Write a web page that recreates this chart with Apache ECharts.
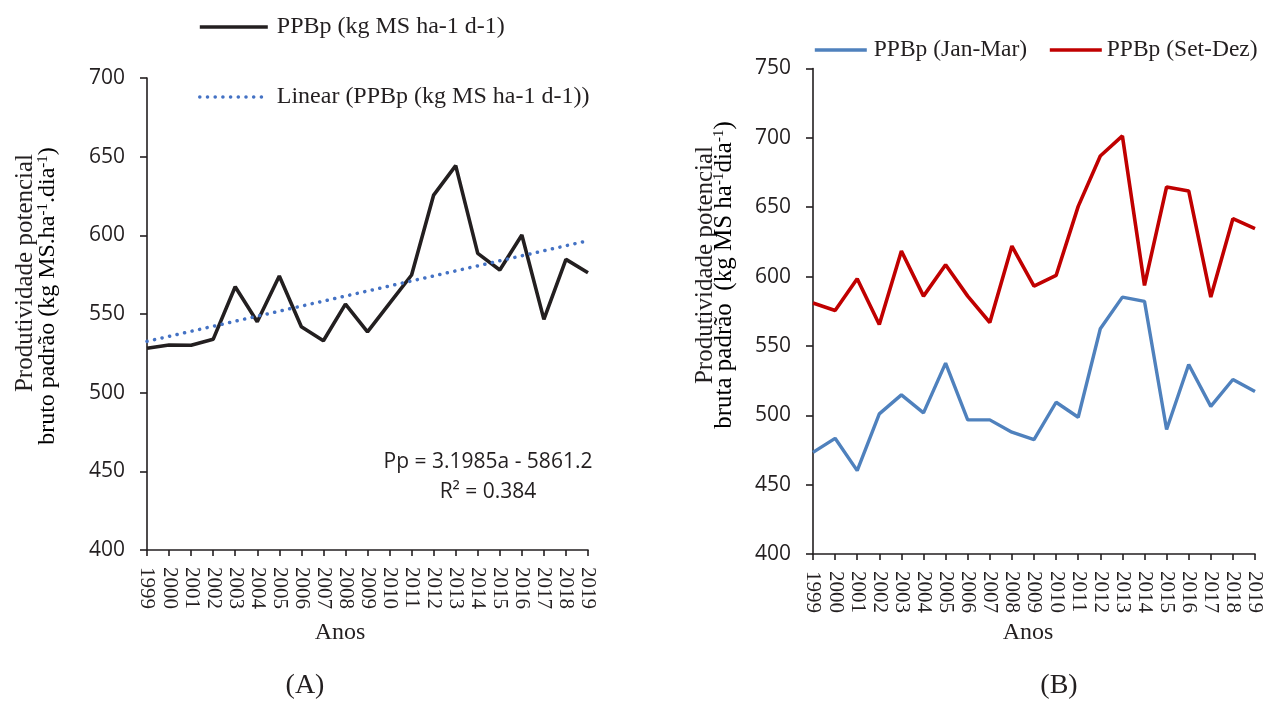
<!DOCTYPE html>
<html>
<head>
<meta charset="utf-8">
<script src="https://cdn.jsdelivr.net/npm/echarts@6/dist/echarts.min.js"></script>
<style>
html,body{margin:0;padding:0;background:#fff;}
#chart{width:1264px;height:702px;}
</style>
</head>
<body>
<div id="chart"></div>
<script>
const years = ['1999','2000','2001','2002','2003','2004','2005','2006','2007','2008','2009','2010','2011','2012','2013','2014','2015','2016','2017','2018','2019'];
const ppbAnnual = [528.2,530.3,530.1,533.9,567.3,545.1,574.1,541.9,533.0,556.3,538.7,556.8,574.8,625.6,644.3,588.5,578.0,600.2,546.6,584.7,576.2];
const trendYears = ['1999','2019'];
const trendValues = [532.6,596.6];
const ppbJanMar = [473.3,483.4,460.1,501.0,514.7,501.7,537.6,496.7,496.7,487.8,482.5,509.4,498.6,562.4,585.2,582.1,489.7,536.6,506.4,525.8,517.1];
const ppbSetDez = [580.9,575.6,598.4,565.5,618.4,585.9,608.5,585.9,566.9,622.0,593.1,600.8,650.6,686.9,701.4,593.6,664.6,661.7,585.2,641.7,634.5];
const leftYTicks = {min:400, max:700, interval:50};
const rightYTicks = {min:400, max:750, interval:50};

const serif = '"Liberation Serif", "Times New Roman", serif';
const sans = '"Open Sans", "Noto Sans", sans-serif';
const ink = '#231f20';

const chart = echarts.init(document.getElementById('chart'), null, {renderer:'canvas'});

function xAxis(gridIndex){
  return {
    type:'category', gridIndex, data: years, boundaryGap:false,
    axisLine:{show:true, onZero:false, lineStyle:{color:ink, width:1.6}},
    axisTick:{show:true, inside:false, length:6, interval:0, alignWithLabel:true, lineStyle:{color:ink, width:1.6}},
    axisLabel:{interval:0, rotate:-90, margin:17, fontFamily:serif, fontSize:21, color:ink},
    splitLine:{show:false}
  };
}
function yAxis(gridIndex, t){
  return {
    type:'value', gridIndex, min:t.min, max:t.max, interval:t.interval,
    axisLine:{show:true, lineStyle:{color:ink, width:1.6}},
    axisTick:{show:true, inside:false, length:7, lineStyle:{color:ink, width:1.6}},
    axisLabel:{margin:22, fontFamily:sans, fontSize:21, color:ink},
    splitLine:{show:false}
  };
}
function legend(names, left, top, extra){
  return Object.assign({
    orient:'horizontal', left, top, padding:0, itemWidth:52, itemHeight:14,
    data:names, itemStyle:{opacity:0}, lineStyle:{width:3.6},
    textStyle:{fontFamily:serif, fontSize:24, color:ink, padding:[0,0,0,2]}
  }, extra || {});
}

const supRich = {
  n:{fontFamily:serif, fontSize:24, color:ink},
  s:{fontFamily:serif, fontSize:15, color:ink, verticalAlign:'top', padding:[0,0,10,0]}
};
const supRichR = {
  n:{fontFamily:serif, fontSize:25, color:ink},
  s:{fontFamily:serif, fontSize:15, color:ink, verticalAlign:'top', padding:[0,0,10,0]}
};

const option = {
  backgroundColor:'#fff',
  animation:false,
  grid:[
    {left:147, right:676, top:78, bottom:152, outerBoundsMode:'none', containLabel:false},
    {left:813, right:9, top:68.5, bottom:148, outerBoundsMode:'none', containLabel:false}
  ],
  legend:[
    legend(['PPBp (kg MS ha-1 d-1)'], 198, 15, {itemWidth:68, textStyle:{fontFamily:serif, fontSize:24, color:ink, padding:[0,0,0,4]}}),
    legend(['Linear (PPBp (kg MS ha-1 d-1))'], 198, 85, {itemWidth:68, lineStyle:{width:3.5}, textStyle:{fontFamily:serif, fontSize:24, color:ink, padding:[0,0,0,4]}}),
    legend(['PPBp (Jan-Mar)'], 813, 38, {textStyle:{fontFamily:serif, fontSize:23.5, color:ink, padding:[0,0,0,2]}}),
    legend(['PPBp (Set-Dez)'], 1048, 38, {textStyle:{fontFamily:serif, fontSize:23.5, color:ink, padding:[0,0,0,0]}})
  ],
  xAxis:[xAxis(0), xAxis(1)],
  yAxis:[yAxis(0,leftYTicks), yAxis(1,rightYTicks)],
  series:[
    {name:'PPBp (kg MS ha-1 d-1)', type:'line', xAxisIndex:0, yAxisIndex:0, data:ppbAnnual,
     symbol:'none', lineStyle:{color:ink, width:3.6}, itemStyle:{color:ink}},
    {name:'Linear (PPBp (kg MS ha-1 d-1))', type:'line', xAxisIndex:0, yAxisIndex:0,
     data: trendYears.map((y,i)=>[y, trendValues[i]]),
     symbol:'none', lineStyle:{color:'#4472c4', width:3.5, type:[0.1,7.6], cap:'round'}, itemStyle:{color:'#4472c4'}, z:3},
    {name:'PPBp (Jan-Mar)', type:'line', xAxisIndex:1, yAxisIndex:1, data:ppbJanMar,
     symbol:'none', lineStyle:{color:'#4f81bd', width:3.4}, itemStyle:{color:'#4f81bd'}},
    {name:'PPBp (Set-Dez)', type:'line', xAxisIndex:1, yAxisIndex:1, data:ppbSetDez,
     symbol:'none', lineStyle:{color:'#c00000', width:3.6}, itemStyle:{color:'#c00000'}}
  ],
  graphic:[
    {type:'text', x:488, y:462, style:{text:'Pp = 3.1985a - 5861.2', fontFamily:sans, fontSize:21, fill:ink, align:'center', verticalAlign:'middle'}},
    {type:'text', x:488, y:492, style:{text:'R² = 0.384', fontFamily:sans, fontSize:21, fill:ink, align:'center', verticalAlign:'middle'}},
    {type:'text', x:340, y:633, style:{text:'Anos', fontFamily:serif, fontSize:24, fill:ink, align:'center', verticalAlign:'middle'}},
    {type:'text', x:1028, y:633, style:{text:'Anos', fontFamily:serif, fontSize:24, fill:ink, align:'center', verticalAlign:'middle'}},
    {type:'text', x:305, y:686, style:{text:'(A)', fontFamily:serif, fontSize:28, fill:ink, align:'center', verticalAlign:'middle'}},
    {type:'text', x:1059, y:686, style:{text:'(B)', fontFamily:serif, fontSize:28, fill:ink, align:'center', verticalAlign:'middle'}},
    {type:'text', x:25, y:273, rotation:Math.PI/2, style:{text:'Produtividade potencial', fontFamily:serif, fontSize:25, fill:ink, align:'center', verticalAlign:'middle'}},
    {type:'text', x:48, y:296, rotation:Math.PI/2, style:{text:'{n|bruto padrão (kg MS.ha}{s|-1}{n|.dia}{s|-1}{n|)}', rich:supRich, align:'center', verticalAlign:'middle'}},
    {type:'text', x:705, y:265, rotation:Math.PI/2, style:{text:'Produtividade potencial', fontFamily:serif, fontSize:25, fill:ink, align:'center', verticalAlign:'middle'}},
    {type:'text', x:724, y:275, rotation:Math.PI/2, style:{text:'{n|bruta padrão  (kg MS ha}{s|-1}{n|dia}{s|-1}{n|)}', rich:supRichR, align:'center', verticalAlign:'middle'}}
  ]
};
chart.setOption(option);
</script>
</body>
</html>
